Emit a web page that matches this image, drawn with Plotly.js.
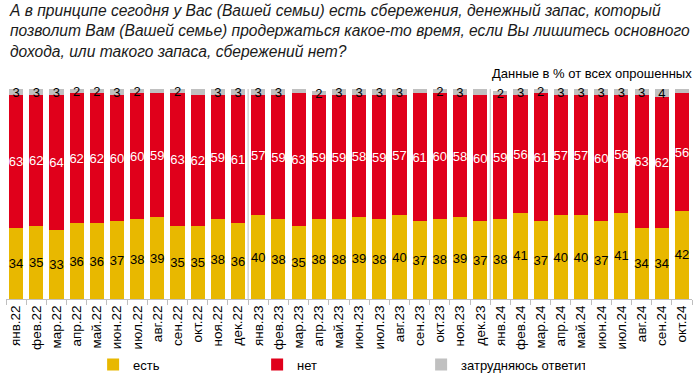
<!DOCTYPE html>
<html>
<head>
<meta charset="utf-8">
<script src="https://cdn.plot.ly/plotly-3.0.1.min.js"></script>
<style>html,body{margin:0;padding:0;background:#fff;}#chart{width:700px;height:385px;}</style>
</head>
<body>
<div id="chart"></div>
<script>
const months = ["янв.22","фев.22","мар.22","апр.22","май.22","июн.22","июл.22","авг.22","сен.22","окт.22","ноя.22","дек.22",
  "янв.23","фев.23","мар.23","апр.23","май.23","июн.23","июл.23","авг.23","сен.23","окт.23","ноя.23","дек.23",
  "янв.24","фев.24","мар.24","апр.24","май.24","июн.24","июл.24","авг.24","сен.24","окт.24"];
const yesValues = [34,35,33,36,36,37,38,39,35,35,38,36, 40,38,35,38,38,39,38,40,37,38,39,37, 38,41,37,40,40,37,41,34,34,42];
const noValues  = [63,62,64,62,62,60,60,59,63,62,59,61, 57,59,63,59,59,58,59,57,61,60,58,60, 59,56,61,57,57,60,56,63,62,56];
const dkValues  = [3,3,3,2,2,3,2,3,2,4,3,3, 3,3,3,2,3,3,3,3,3,2,3,4, 2,3,2,3,3,3,3,3,4,3];
const seriesNames = ["есть","нет","затрудняюсь ответить"];
const titleText = "А в принципе сегодня у Вас (Вашей семьи) есть сбережения, денежный запас, который<br>позволит Вам (Вашей семье) продержаться какое-то время, если Вы лишитесь основного<br>дохода, или такого запаса, сбережений нет?";
const noteText = "Данные в % от всех опрошенных";

const FONT = "Liberation Sans, Arial, sans-serif";
const colors = ["#E8B800","#E0001B","#C0C0C0"];
const textColors = ["#000000","#FFFFFF","#000000"];
const vals = [yesValues, noValues, dkValues];

const data = vals.map((v, k) => ({
  type: "bar",
  name: seriesNames[k],
  x: months,
  y: v,
  text: v.map(String),
  textposition: "inside",
  insidetextanchor: "middle",
  constraintext: "none",
  textangle: 0,
  cliponaxis: false,
  textfont: {family: FONT, size: 13, color: textColors[k]},
  marker: {color: colors[k], line: {width: 0}},
  hoverinfo: "x+y+name"
}));

const shapes = [];
months.forEach((m, i) => {
  if (i > 0 && m.startsWith("янв")) {
    shapes.push({type: "line", xref: "x", yref: "paper", x0: i - 0.5, x1: i - 0.5, y0: 0, y1: 1,
      line: {color: "#BFBFBF", width: 1}});
  }
});

const layout = {
  width: 700, height: 385,
  margin: {l: 6, r: 8, t: 89, b: 78},
  paper_bgcolor: "#fff", plot_bgcolor: "#fff",
  font: {family: FONT, size: 13, color: "#000"},
  barmode: "stack",
  bargap: 0.3,
  showlegend: true,
  title: {
    text: titleText,
    x: 10/700, xanchor: "left", xref: "container",
    y: 0.958, yanchor: "top", yref: "container",
    font: {family: FONT, size: 15.6, style: "italic", color: "#1a1a1a"}
  },
  xaxis: {
    type: "category",
    tickangle: -90,
    tickfont: {family: FONT, size: 13.5, color: "#000"},
    ticks: "outside", ticklen: 5, tickcolor: "#BFBFBF",
    tickson: "boundaries",
    showline: true, linecolor: "#BFBFBF", linewidth: 1,
    showgrid: false, zeroline: false,
    fixedrange: true
  },
  yaxis: {visible: false, range: [0, 100], showgrid: false, zeroline: false, fixedrange: true},
  legend: {
    orientation: "h",
    x: 0.127, xanchor: "left",
    y: -0.312, yanchor: "middle",
    entrywidth: 119, entrywidthmode: "pixels",
    itemwidth: 30,
    traceorder: "normal",
    font: {family: FONT, size: 13, color: "#000"},
    bgcolor: "rgba(0,0,0,0)"
  },
  shapes: shapes,
  annotations: [{
    text: noteText, xref: "paper", yref: "paper",
    x: 1.003, xanchor: "right", y: 1.073, yanchor: "middle",
    showarrow: false, font: {family: FONT, size: 13, color: "#000"}
  }]
};

Plotly.newPlot("chart", data, layout, {displayModeBar: false, staticPlot: true});
</script>
</body>
</html>
